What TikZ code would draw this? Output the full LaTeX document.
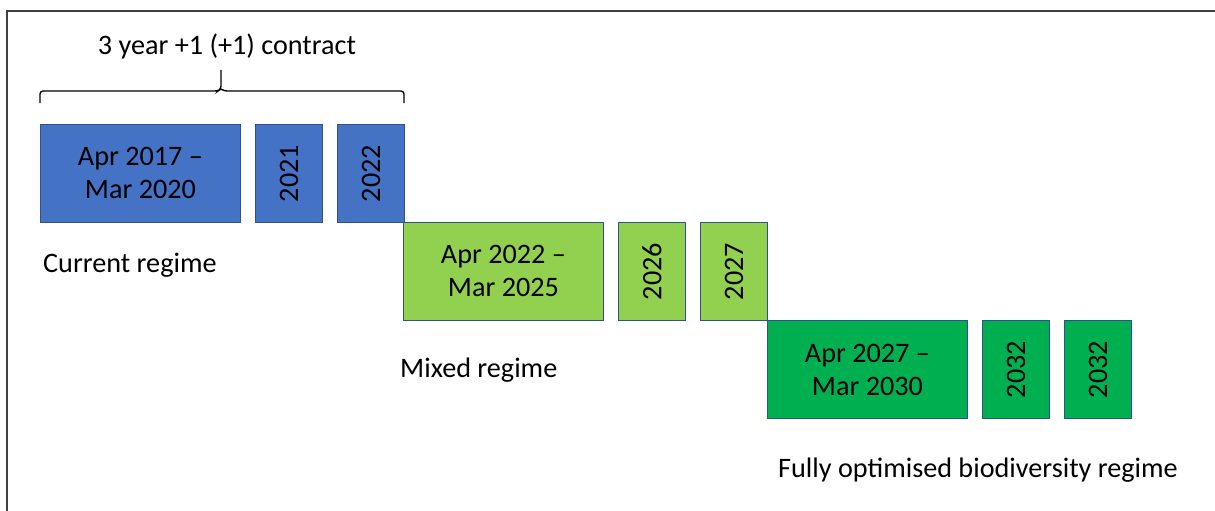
\documentclass[tikz,border=0pt]{standalone}
\usepackage{fontspec}
\setmainfont{Carlito}
\definecolor{boxline}{HTML}{2F528F}
\definecolor{cblue}{HTML}{4472C4}
\definecolor{clime}{HTML}{92D050}
\definecolor{cgreen}{HTML}{00B050}
\definecolor{frame}{HTML}{404040}
\begin{document}
\begin{tikzpicture}[x=1pt,y=-1pt,
  txt/.style={font=\fontsize{28.2}{33}\selectfont,inner sep=0pt},
  bigbox/.style={txt,draw=boxline,line width=0.9pt,anchor=north west,align=center,minimum width=200pt,minimum height=98pt},
  smallbox/.style={txt,draw=boxline,line width=0.9pt,anchor=north west,minimum width=67pt,minimum height=98pt},
  lbl/.style={txt,anchor=base west}]
\useasboundingbox (0,0) rectangle (1215,511);
\draw[frame,line width=2pt] (7,511) -- (7,11) -- (1215,11);

% brace
\draw[black,line width=1.4pt,rounded corners=3pt] (40,103) |- (218,91) -- (221,89) -- (221,70);
\draw[black,line width=1.4pt,rounded corners=3pt] (221,89) -- (224,91) -| (404,103);
\node[txt,anchor=base] (contract) at (227,55) {3 year +1 (+1) contract};

% current regime
\node[bigbox,fill=cblue] (b1) at (40,124) {Apr 2017 –\\Mar 2020};
\node[smallbox,fill=cblue] (b2) at (255,124) {\rotatebox{90}{2021}};
\node[smallbox,fill=cblue] (b3) at (337,124) {\rotatebox{90}{2022}};
\node[lbl] (cur) at (43,272) {Current regime};

% mixed regime
\node[bigbox,fill=clime] (b4) at (403,222) {Apr 2022 –\\Mar 2025};
\node[smallbox,fill=clime] (b5) at (618,222) {\rotatebox{90}{2026}};
\node[smallbox,fill=clime] (b6) at (700,222) {\rotatebox{90}{2027}};
\node[lbl] (mix) at (400,377) {Mixed regime};

% fully optimised
\node[bigbox,fill=cgreen] (b7) at (767,320) {Apr 2027 –\\Mar 2030};
\node[smallbox,fill=cgreen] (b8) at (982,320) {\rotatebox{90}{2032}};
\node[smallbox,fill=cgreen] (b9) at (1064,320) {\rotatebox{90}{2032}};
\node[lbl] (full) at (778,477) {Fully optimised biodiversity regime};
\end{tikzpicture}
\end{document}
